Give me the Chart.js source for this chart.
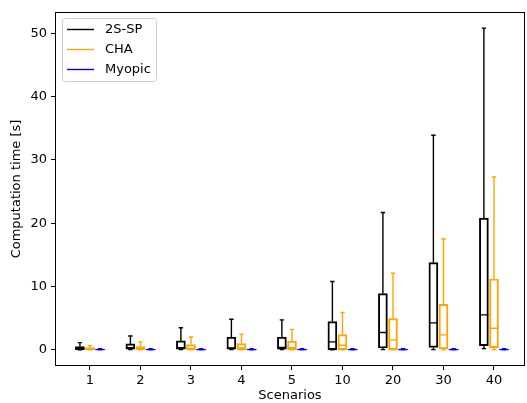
<!DOCTYPE html>
<html>
<head>
<meta charset="utf-8">
<script src="https://cdn.jsdelivr.net/npm/chart.js@4.4.1/dist/chart.umd.min.js"></script>
<style>
  body { margin: 0; background: #fff; }
  canvas { display: block; }
</style>
</head>
<body>
<canvas id="myChart" width="527" height="403"></canvas>
<script>
// scenarios on the x axis
const scenarios = ['1', '2', '3', '4', '5', '10', '20', '30', '40'];
const seriesNames = ['2S-SP', 'CHA', 'Myopic'];
const seriesColors = ['#000000', '#FFA500', '#0000FF'];
const yTicks = [0, 10, 20, 30, 40, 50];

// 2S-SP box stats (seconds)
const spLow  = [0.0, 0.05, 0.05, 0.05, 0.05, 0.0, 0.05, 0.05, 0.2];
const spQ1   = [0.02, 0.1, 0.1, 0.1, 0.1, 0.05, 0.3, 0.4, 0.68];
const spMed  = [0.2, 0.35, 0.35, 0.3, 0.4, 1.27, 2.74, 4.27, 5.53];
const spQ3   = [0.52, 0.95, 1.42, 2.0, 2.0, 4.48, 8.9, 13.8, 20.8];
const spHigh = [1.15, 2.2, 3.5, 4.85, 4.75, 10.8, 21.7, 33.9, 50.8];

// CHA box stats
const chaLow  = [0, 0, 0, 0, 0, 0, 0, 0, 0.05];
const chaQ1   = [0.02, 0.05, 0.05, 0.05, 0.05, 0.05, 0.05, 0.15, 0.36];
const chaMed  = [0.15, 0.2, 0.25, 0.3, 0.35, 0.73, 1.58, 2.37, 3.42];
const chaQ3   = [0.36, 0.52, 0.84, 1.0, 1.37, 2.42, 4.95, 7.2, 11.2];
const chaHigh = [0.68, 1.27, 2.05, 2.5, 3.25, 5.9, 12.1, 17.5, 27.3];

// Myopic box stats
const myLow  = [0, 0, 0, 0, 0, 0, 0, 0, 0];
const myQ1   = [0.0, 0.0, 0.0, 0.0, 0.0, 0.0, 0.0, 0.0, 0.0];
const myMed  = [0.05, 0.05, 0.05, 0.05, 0.05, 0.05, 0.05, 0.05, 0.05];
const myQ3   = [0.15, 0.15, 0.15, 0.15, 0.15, 0.15, 0.15, 0.15, 0.15];
const myHigh = [0.2, 0.2, 0.2, 0.2, 0.2, 0.2, 0.2, 0.2, 0.2];

const offsets = [-0.2, 0, 0.2];
const FONT = 'DejaVu Sans';

function makeSet(idx, low, q1, med, q3, high) {
    return {
        label: seriesNames[idx],
        data: scenarios.map((s, i) => ({ x: i + 1 + offsets[idx], y: [q1[i], q3[i]] })),
        stats: { low: low, med: med, high: high },
        backgroundColor: idx == 2 ? seriesColors[2] : 'rgba(0,0,0,0)',
        borderColor: seriesColors[idx],
        borderWidth: idx == 2 ? 1.6 : 1.3,
        borderRadius: idx == 2 ? 2 : 0,
        borderSkipped: false,
        barThickness: idx == 2 ? 10 : 9,
        grouped: false
    };
}

// whiskers, caps, medians, frame and legend
const boxExtras = {
    id: 'boxExtras',
    afterDatasetsDraw(chart) {
        const ctx = chart.ctx;
        const ys = chart.scales.y;
        chart.data.datasets.forEach((ds, di) => {
            const meta = chart.getDatasetMeta(di);
            ctx.save();
            ctx.strokeStyle = ds.borderColor;
            ctx.lineWidth = 1.4;
            meta.data.forEach((bar, i) => {
                const x = bar.x;
                const yLo = ys.getPixelForValue(ds.stats.low[i]);
                const yHi = ys.getPixelForValue(ds.stats.high[i]);
                const yQ1 = ys.getPixelForValue(ds.data[i].y[0]);
                const yQ3 = ys.getPixelForValue(ds.data[i].y[1]);
                const yMed = ys.getPixelForValue(ds.stats.med[i]);
                ctx.beginPath();
                ctx.moveTo(x, yQ3); ctx.lineTo(x, yHi);
                ctx.moveTo(x, yQ1); ctx.lineTo(x, yLo);
                ctx.moveTo(x - 2.2, yHi); ctx.lineTo(x + 2.2, yHi);
                ctx.moveTo(x - 2.2, yLo); ctx.lineTo(x + 2.2, yLo);
                ctx.moveTo(x - 4.5, yMed); ctx.lineTo(x + 4.5, yMed);
                ctx.stroke();
            });
            ctx.restore();
        });
    },
    afterDraw(chart) {
        const ctx = chart.ctx;
        const a = chart.chartArea;
        ctx.save();
        ctx.strokeStyle = '#000';
        ctx.lineWidth = 1;
        ctx.strokeRect(a.left + 0.5, a.top + 0.5, a.right - a.left - 1, a.bottom - a.top - 1);

        // legend box
        const lx = a.left + 7, ly = a.top + 6, lw = 94, lh = 63;
        ctx.beginPath();
        ctx.roundRect(lx + 0.5, ly + 0.5, lw, lh, 3);
        ctx.fillStyle = 'rgba(255,255,255,0.8)';
        ctx.fill();
        ctx.strokeStyle = '#cccccc';
        ctx.stroke();
        ctx.font = '13px ' + FONT;
        ctx.textBaseline = 'middle';
        seriesNames.forEach((name, i) => {
            const y = ly + 11.5 + i * 20;
            ctx.strokeStyle = seriesColors[i];
            ctx.lineWidth = 1.4;
            ctx.beginPath();
            ctx.moveTo(lx + 5, y); ctx.lineTo(lx + 32, y);
            ctx.stroke();
            ctx.fillStyle = '#000';
            ctx.fillText(name, lx + 43, y);
        });
        ctx.restore();
    }
};

const data = {
    datasets: [
        makeSet(0, spLow, spQ1, spMed, spQ3, spHigh),
        makeSet(1, chaLow, chaQ1, chaMed, chaQ3, chaHigh),
        makeSet(2, myLow, myQ1, myMed, myQ3, myHigh)
    ]
};

const config = {
    type: 'bar',
    data,
    options: {
        responsive: false,
        animation: false,
        layout: { padding: { top: 12, right: 2, left: 9, bottom: 0 } },
        plugins: { legend: { display: false }, tooltip: { enabled: false } },
        scales: {
            x: {
                type: 'linear',
                offset: false,
                min: 0.307,
                max: 9.614,
                afterBuildTicks: (scale) => { scale.ticks = scenarios.map((s, i) => ({ value: i + 1 })); },
                afterFit: (scale) => { scale.height = 37; },
                ticks: {
                    callback: (v) => scenarios[v - 1],
                    color: '#000',
                    font: { family: FONT, size: 13 },
                    padding: 3,
                    maxRotation: 0,
                    autoSkip: false
                },
                grid: { display: true, offset: false, drawOnChartArea: false, drawTicks: true, tickLength: 4, color: '#000' },
                border: { display: false },
                title: { display: true, text: 'Scenarios', color: '#000', font: { family: FONT, size: 13 }, padding: { top: 3, bottom: 0 } }
            },
            y: {
                min: -2.54,
                max: 53.35,
                afterBuildTicks: (scale) => { scale.ticks = yTicks.map(v => ({ value: v })); },
                afterFit: (scale) => { scale.width = 46; },
                ticks: { color: '#000', font: { family: FONT, size: 13 }, padding: 4 },
                grid: { display: true, drawOnChartArea: false, drawTicks: true, tickLength: 4, color: '#000' },
                border: { display: false },
                title: { display: true, text: 'Computation time [s]', color: '#000', font: { family: FONT, size: 13 }, padding: { top: 0, bottom: 4 } }
            }
        }
    },
    plugins: [boxExtras]
};

const myChart = new Chart(document.getElementById('myChart'), config);
</script>
</body>
</html>
